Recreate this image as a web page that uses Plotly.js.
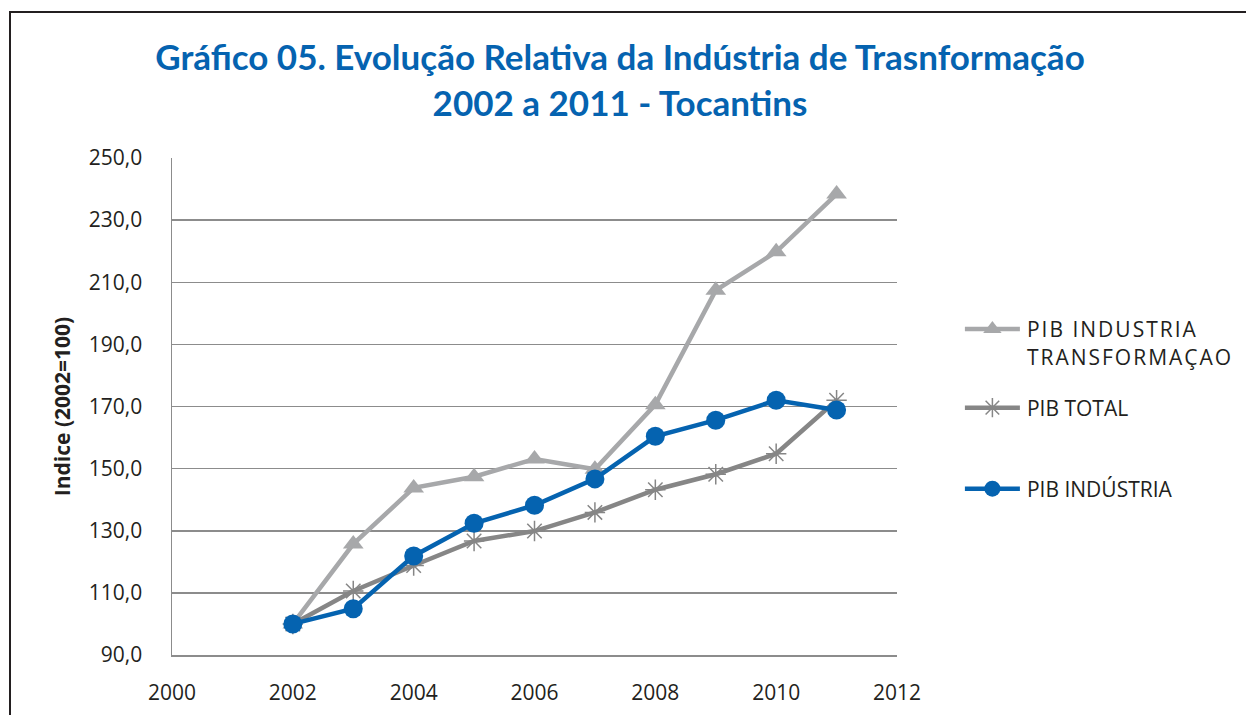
<!DOCTYPE html>
<html>
<head>
<meta charset="utf-8">
<script src="https://cdn.plot.ly/plotly-3.0.1.min.js"></script>
<style>
  html, body { margin: 0; padding: 0; background: #fff; }
  #wrap { position: relative; width: 1246px; height: 715px; overflow: hidden; }
  #chart { position: absolute; left: 0; top: 0; width: 1246px; height: 715px; }
  #frame { position: absolute; left: 9px; top: 11px; width: 1400px; height: 900px;
           border: 2px solid #231f20; pointer-events: none; }
  .legendtext { letter-spacing: 2px; }
</style>
</head>
<body>
<div id="wrap">
  <div id="chart"></div>
  <div id="frame"></div>
</div>
<script>
const years = [2002, 2003, 2004, 2005, 2006, 2007, 2008, 2009, 2010, 2011];
const pibIndustriaTransformacao = [100.0, 125.7, 143.8, 147.4, 153.1, 149.8, 170.6, 207.4, 219.8, 238.4];
const pibTotal = [100.0, 110.6, 118.8, 126.7, 129.9, 135.9, 143.2, 148.2, 154.8, 172.0];
const pibIndustria = [100.0, 104.9, 121.9, 132.4, 138.2, 146.7, 160.4, 165.6, 172.0, 168.9];
const seriesNames = ['PIB INDUSTRIA<br>TRANSFORMAÇAO', 'PIB TOTAL', 'PIB INDÚSTRIA'];
const xTicks = [2000, 2002, 2004, 2006, 2008, 2010, 2012];
const yTicks = [90, 110, 130, 150, 170, 190, 210, 230, 250];

const traces = [
  {
    x: years, y: pibIndustriaTransformacao, name: seriesNames[0], type: 'scatter', mode: 'lines+markers',
    line: {color: '#a7a8aa', width: 4.5},
    marker: {symbol: 'triangle-up', size: 18, color: '#a7a8aa'},
    legend: 'legend'
  },
  {
    x: years, y: pibTotal, name: seriesNames[1], type: 'scatter', mode: 'lines+markers',
    line: {color: '#868686', width: 4.5},
    marker: {symbol: 'asterisk-open', size: 17, color: '#868686', line: {color: '#868686', width: 1.5}},
    legend: 'legend2'
  },
  {
    x: years, y: pibIndustria, name: seriesNames[2], type: 'scatter', mode: 'lines+markers',
    line: {color: '#0563b0', width: 4.5},
    marker: {symbol: 'circle', size: 19, color: '#0563b0'},
    legend: 'legend3'
  }
];

const legendFont = {family: '"Open Sans", Lato, sans-serif', size: 21, color: '#231f20'};
const legendBase = {
  xref: 'paper', yref: 'paper', xanchor: 'left', yanchor: 'middle',
  font: legendFont, bgcolor: 'rgba(0,0,0,0)', borderwidth: 0, itemwidth: 30
};

const layout = {
  width: 1246, height: 715,
  paper_bgcolor: '#ffffff', plot_bgcolor: '#ffffff',
  separators: ',.',
  margin: {l: 172, r: 349, t: 158, b: 60, autoexpand: false},
  title: {
    text: 'Gráfico 05. Evolução Relativa da Indústria de Trasnformação<br>2002 a 2011 - Tocantins',
    font: {family: 'Lato, "Open Sans", sans-serif', size: 35, color: '#0563b0', weight: 'bold'},
    x: 0.4976, xref: 'container', xanchor: 'center', y: 0.902, yanchor: 'top'
  },
  xaxis: {
    range: [2000, 2012], tickvals: xTicks, ticktext: xTicks.map(String),
    showgrid: false, zeroline: false, showline: true, linecolor: '#8c8c8c', linewidth: 1.5,
    ticks: '', ticklabelstandoff: 18, automargin: false,
    tickfont: {family: '"Open Sans", Lato, sans-serif', size: 21, color: '#231f20'}
  },
  yaxis: {
    range: [90, 250], tickvals: yTicks, tickformat: '.1f',
    showgrid: true, gridcolor: '#8c8c8c', gridwidth: 1.5,
    zeroline: false, showline: true, linecolor: '#8c8c8c', linewidth: 1.5,
    ticks: '', ticklabelstandoff: 24, automargin: false,
    tickfont: {family: '"Open Sans", Lato, sans-serif', size: 21, color: '#231f20'},
    title: {text: 'Indice (2002=100)', standoff: 12,
            font: {family: '"Open Sans", Lato, sans-serif', size: 21, color: '#231f20', weight: 'bold'}}
  },
  legend: Object.assign({}, legendBase, {x: 1.124, y: 0.628, valign: 'top'}),
  legend2: Object.assign({}, legendBase, {x: 1.124, y: 0.497}),
  legend3: Object.assign({}, legendBase, {x: 1.124, y: 0.334}),
  showlegend: true
};

Plotly.newPlot('chart', traces, layout, {staticPlot: true, displayModeBar: false}).then(function (gd) {
  // let legend samples extend past the legend box, and lengthen them like the reference
  gd.querySelectorAll('.infolayer [clip-path]').forEach(function (el) {
    el.removeAttribute('clip-path');
  });
  gd.querySelectorAll('.legendlines path').forEach(function (p) {
    p.setAttribute('d', 'M-22,0h55');
  });
  gd.querySelectorAll('.legendpoints path').forEach(function (p) {
    p.setAttribute('transform', 'translate(5.5,0)');
  });
});
</script>
</body>
</html>
